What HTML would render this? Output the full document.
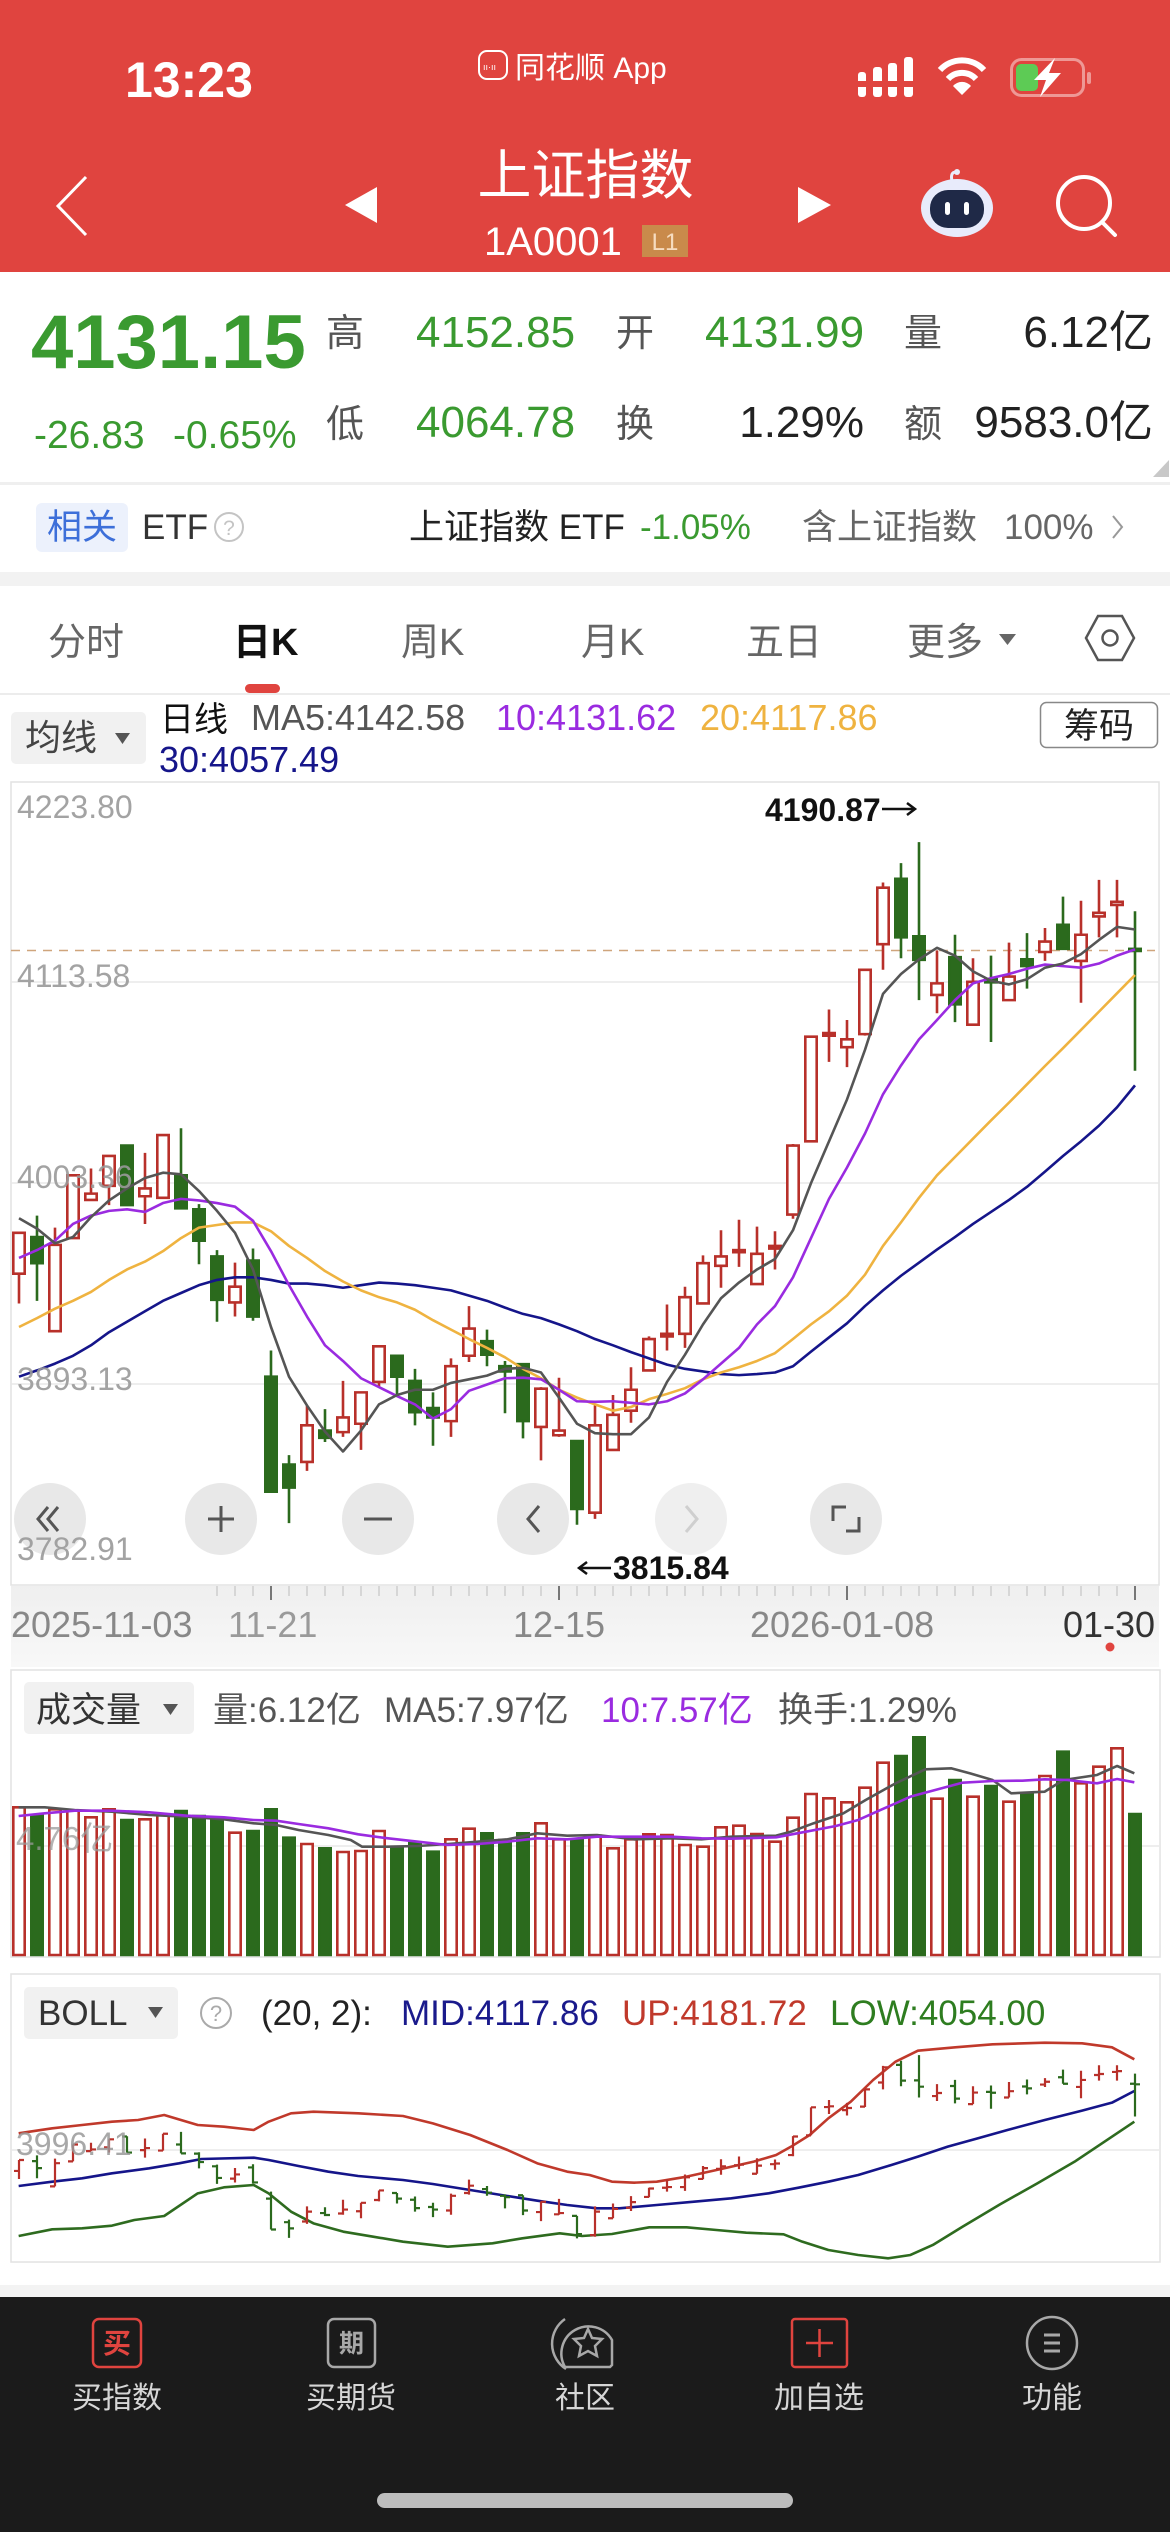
<!DOCTYPE html>
<html><head><meta charset="utf-8">
<style>
html,body{margin:0;padding:0;background:#fff;}
svg{display:block;font-family:"Liberation Sans","Noto Sans CJK SC",sans-serif;}
.ns *{vector-effect:non-scaling-stroke;}
</style></head>
<body>
<svg width="1170" height="2532" viewBox="0 0 1170 2532" xmlns="http://www.w3.org/2000/svg">
<defs>
<linearGradient id="dg" x1="0" y1="0" x2="0" y2="1"><stop offset="0" stop-color="#efefef"/><stop offset="1" stop-color="#f8f8f8"/></linearGradient>
</defs>
<rect x="0" y="0" width="1170" height="2532" fill="#fff"/>
<!-- HEADER -->
<rect x="0" y="0" width="1170" height="272" fill="#e0443f"/>
<text x="125" y="97" font-size="50" font-weight="bold" fill="#fff">13:23</text>
<rect x="479" y="51" width="28" height="28" rx="8" fill="#e0443f" stroke="#fff" stroke-width="2"/>
<text x="483" y="70" font-size="9" fill="#fff">ıı·ıı</text>
<text x="515" y="78" font-size="30" fill="#fff">同花顺 App</text>
<!-- signal -->
<g fill="#fff">
<rect x="858" y="72" width="8" height="25" rx="3"/>
<rect x="873" y="67" width="9" height="30" rx="3"/>
<rect x="888" y="63" width="9" height="34" rx="3"/>
<rect x="904" y="57" width="9" height="40" rx="3"/>
</g>
<rect x="855" y="81" width="62" height="6" fill="#e0443f"/>
<!-- wifi -->
<g fill="none" stroke="#fff" stroke-width="6">
<path d="M940,70 A30,30 0 0 1 984,70"/>
<path d="M948,79 A19,19 0 0 1 976,79"/>
</g>
<path d="M962,95 L953,86 A12,12 0 0 1 971,86 Z" fill="#fff"/>
<!-- battery -->
<rect x="1011.5" y="59.5" width="72" height="36" rx="10" fill="none" stroke="rgba(255,255,255,0.45)" stroke-width="3"/>
<rect x="1087" y="72" width="4" height="12" rx="2" fill="rgba(255,255,255,0.45)"/>
<rect x="1016" y="64" width="22" height="27" rx="5" fill="#5dcb55"/>
<polygon points="1055,58 1034,80 1046,80 1040,97 1061,73 1049,73" fill="#fff"/>
<!-- nav row -->
<polyline points="86,177 58,206 86,235" fill="none" stroke="#fff" stroke-width="3"/>
<polygon points="377,187 345,205 377,223" fill="#fff"/>
<text x="585.5" y="194" font-size="54" fill="#fff" text-anchor="middle">上证指数</text>
<text x="484" y="255" font-size="40" fill="#fff">1A0001</text>
<rect x="642" y="225" width="46" height="32" fill="#c98a4b"/>
<text x="665" y="250" font-size="24" fill="#f6dcc0" text-anchor="middle">L1</text>
<polygon points="798,187 831,205 798,223" fill="#fff"/>
<!-- robot -->
<path d="M952,181 Q950,172 956,172" fill="none" stroke="#e9ecfb" stroke-width="3"/>
<circle cx="957" cy="172" r="3" fill="#e9ecfb"/>
<ellipse cx="957" cy="208" rx="36" ry="29" fill="#e8ebfb"/>
<rect x="930" y="190" width="54" height="38" rx="18" fill="#1f2947"/>
<rect x="945" y="202" width="5" height="13" rx="2.5" fill="#fff"/>
<rect x="964" y="202" width="5" height="13" rx="2.5" fill="#fff"/>
<!-- search -->
<circle cx="1084" cy="203" r="26" fill="none" stroke="#fff" stroke-width="4"/>
<line x1="1102" y1="222" x2="1115" y2="235" stroke="#fff" stroke-width="4" stroke-linecap="round"/>

<!-- PRICE PANEL -->
<text x="31" y="368" font-size="76" font-weight="bold" fill="#3a9a30">4131.15</text>
<text x="34" y="448" font-size="39" fill="#3a9a30">-26.83</text>
<text x="173" y="448" font-size="39" fill="#3a9a30">-0.65%</text>
<g font-size="38" fill="#555">
<text x="326" y="346">高</text><text x="326" y="437">低</text>
<text x="616" y="346">开</text><text x="616" y="437">换</text>
<text x="904" y="346">量</text><text x="904" y="437">额</text>
</g>
<g font-size="44">
<text x="416" y="347" fill="#3a9a30">4152.85</text>
<text x="416" y="437" fill="#3a9a30">4064.78</text>
<text x="705" y="347" fill="#3a9a30">4131.99</text>
<text x="864" y="437" fill="#222" text-anchor="end">1.29%</text>
<text x="1153" y="347" fill="#222" text-anchor="end">6.12亿</text>
<text x="1153" y="437" fill="#222" text-anchor="end">9583.0亿</text>
</g>
<polygon points="1169,460 1169,477 1153,477" fill="#c8c8c8"/>
<rect x="0" y="482" width="1170" height="3" fill="#efefef"/>
<!-- ETF row -->
<rect x="36" y="503" width="92" height="49" rx="6" fill="#ecf1fc"/>
<text x="82" y="539" font-size="35" fill="#3d6fd9" text-anchor="middle">相关</text>
<text x="142" y="539" font-size="35" fill="#333">ETF</text>
<circle cx="229" cy="527" r="14" fill="none" stroke="#c4c4c4" stroke-width="2"/>
<text x="229" y="535" font-size="21" fill="#c4c4c4" text-anchor="middle">?</text>
<text x="409" y="539" font-size="35" fill="#222">上证指数 ETF</text>
<text x="640" y="539" font-size="35" fill="#3a9a30">-1.05%</text>
<text x="802" y="539" font-size="35" fill="#666">含上证指数</text>
<text x="1004" y="539" font-size="35" fill="#666">100%</text>
<polyline points="1113,516 1122,527 1113,538" fill="none" stroke="#999" stroke-width="2"/>
<rect x="0" y="572" width="1170" height="14" fill="#f2f2f2"/>

<!-- TABS -->
<g font-size="38" fill="#666">
<text x="48" y="655">分时</text>
<text x="233" y="655" fill="#111" font-weight="bold">日K</text>
<text x="401" y="655">周K</text>
<text x="581" y="655">月K</text>
<text x="746" y="655">五日</text>
<text x="907" y="655">更多</text>
</g>
<polygon points="999,634 1016,634 1007.5,645" fill="#666"/>
<polygon points="1086,638 1098,616 1122,616 1134,638 1122,660 1098,660" fill="none" stroke="#555" stroke-width="2.5"/>
<circle cx="1110" cy="638" r="7.5" fill="none" stroke="#555" stroke-width="2.5"/>
<rect x="245" y="684" width="35" height="9" rx="4.5" fill="#e0443f"/>
<rect x="0" y="693" width="1170" height="2" fill="#ececec"/>

<!-- MA LEGEND -->
<rect x="11" y="712" width="135" height="52" rx="5" fill="#f1f1f1"/>
<text x="25" y="750" font-size="36" fill="#444">均线</text>
<polygon points="115,733 130,733 122.5,744" fill="#555"/>
<text x="160" y="731" font-size="34" fill="#111">日线</text>
<text x="251" y="730" font-size="36" fill="#555">MA5:4142.58</text>
<text x="496" y="730" font-size="36" fill="#9a2be0">10:4131.62</text>
<text x="700" y="730" font-size="36" fill="#efb340">20:4117.86</text>
<text x="159" y="772" font-size="36" fill="#15158a">30:4057.49</text>
<rect x="1040.5" y="702.5" width="117" height="45" rx="6" fill="#fff" stroke="#888" stroke-width="1.5"/>
<text x="1099" y="738" font-size="35" fill="#222" text-anchor="middle">筹码</text>

<!-- MAIN CHART FRAME -->
<rect x="11" y="782" width="1148" height="803" fill="#fff" stroke="#e2e2e2" stroke-width="1.5"/>
<g stroke="#e8e8e8" stroke-width="1.5">
<line x1="11" y1="982" x2="1159" y2="982"/>
<line x1="11" y1="1183" x2="1159" y2="1183"/>
<line x1="11" y1="1384" x2="1159" y2="1384"/>
</g>
<line x1="11" y1="950.5" x2="1155" y2="950.5" stroke="#cfa57c" stroke-width="1.5" stroke-dasharray="9,7"/>

<!-- candles (y in zoom units) -->
<g class="ns" transform="translate(0,770) scale(1,0.5230)">
<path fill="none" stroke="#b8302a" stroke-width="2.6" d="M19 885V1020M55 875V1073M73 775V895M91 762V822M109 738V832M145 732V868M163 698V818M235 942V1045M307 1215V1340M343 1168V1275M361 1190V1300M379 1102V1180M451 1125V1275M469 1025V1132M541 1180V1320M559 1162V1275M595 1215V1432M613 1195V1300M631 1142V1248M649 1083V1150M667 1022V1110M685 988V1105M703 928V1022M721 880V990M739 860V950M757 873V983M775 882V955M793 715V858M811 510V710M829 458V558M847 478V568M865 380V508M883 215V382M937 345V465M973 360V487M1009 330V440M1045 302V365M1081 250V445M1099 210V320M1117 210V320"/>
<path fill="none" stroke="#2b6a1d" stroke-width="2.6" d="M37 852V1015M127 716V832M181 685V838M199 830V945M217 918V1055M253 915V1053M271 1110V1380M289 1310V1440M325 1222V1285M397 1120V1195M415 1145V1253M433 1190V1292M487 1070V1140M505 1130V1230M523 1136V1278M577 1283V1443M901 178V360M919 138V440M955 315V482M991 355V520M1027 312V418M1063 242V342M1135 270V575"/>
<g fill="#fff" stroke="#b8302a" stroke-width="2.6">
<rect x="13.3" y="885" width="11.4" height="78"/>
<rect x="49.3" y="908" width="11.4" height="165"/>
<rect x="67.3" y="775" width="11.4" height="120"/>
<rect x="85.3" y="810" width="11.4" height="12"/>
<rect x="103.3" y="738" width="11.4" height="57"/>
<rect x="139.3" y="800" width="11.4" height="15"/>
<rect x="157.3" y="698" width="11.4" height="120"/>
<rect x="229.3" y="988" width="11.4" height="30"/>
<rect x="301.3" y="1253" width="11.4" height="70"/>
<rect x="337.3" y="1238" width="11.4" height="28"/>
<rect x="355.3" y="1190" width="11.4" height="60"/>
<rect x="373.3" y="1102" width="11.4" height="68"/>
<rect x="445.3" y="1140" width="11.4" height="105"/>
<rect x="463.3" y="1068" width="11.4" height="52"/>
<rect x="535.3" y="1183" width="11.4" height="73"/>
<rect x="553.3" y="1263" width="11.4" height="9"/>
<rect x="589.3" y="1253" width="11.4" height="167"/>
<rect x="607.3" y="1233" width="11.4" height="67"/>
<rect x="625.3" y="1185" width="11.4" height="40"/>
<rect x="643.3" y="1088" width="11.4" height="60"/>
<rect x="661.3" y="1078" width="11.4" height="5"/>
<rect x="679.3" y="1008" width="11.4" height="70"/>
<rect x="697.3" y="943" width="11.4" height="77"/>
<rect x="715.3" y="930" width="11.4" height="18"/>
<rect x="733.3" y="918" width="11.4" height="4"/>
<rect x="751.3" y="925" width="11.4" height="58"/>
<rect x="769.3" y="910" width="11.4" height="5"/>
<rect x="787.3" y="718" width="11.4" height="132"/>
<rect x="805.3" y="510" width="11.4" height="200"/>
<rect x="823.3" y="503" width="11.4" height="5"/>
<rect x="841.3" y="515" width="11.4" height="15"/>
<rect x="859.3" y="382" width="11.4" height="123"/>
<rect x="877.3" y="225" width="11.4" height="108"/>
<rect x="931.3" y="408" width="11.4" height="22"/>
<rect x="967.3" y="405" width="11.4" height="82"/>
<rect x="1003.3" y="395" width="11.4" height="45"/>
<rect x="1039.3" y="328" width="11.4" height="20"/>
<rect x="1075.3" y="315" width="11.4" height="50"/>
<rect x="1093.3" y="273" width="11.4" height="7"/>
<rect x="1111.3" y="252" width="11.4" height="6"/>
</g>
<g fill="#2b6a1d" stroke="#2b6a1d" stroke-width="2.6">
<rect x="31.3" y="893" width="11.4" height="50"/>
<rect x="121.3" y="718" width="11.4" height="114"/>
<rect x="175.3" y="775" width="11.4" height="63"/>
<rect x="193.3" y="840" width="11.4" height="60"/>
<rect x="211.3" y="930" width="11.4" height="83"/>
<rect x="247.3" y="938" width="11.4" height="107"/>
<rect x="265.3" y="1160" width="11.4" height="220"/>
<rect x="283.3" y="1328" width="11.4" height="44"/>
<rect x="319.3" y="1263" width="11.4" height="14"/>
<rect x="391.3" y="1120" width="11.4" height="40"/>
<rect x="409.3" y="1168" width="11.4" height="60"/>
<rect x="427.3" y="1220" width="11.4" height="18"/>
<rect x="481.3" y="1092" width="11.4" height="26"/>
<rect x="499.3" y="1140" width="11.4" height="10"/>
<rect x="517.3" y="1136" width="11.4" height="109"/>
<rect x="571.3" y="1283" width="11.4" height="130"/>
<rect x="895.3" y="208" width="11.4" height="112"/>
<rect x="913.3" y="318" width="11.4" height="45"/>
<rect x="949.3" y="358" width="11.4" height="90"/>
<rect x="985.3" y="400" width="11.4" height="6"/>
<rect x="1021.3" y="362" width="11.4" height="13"/>
<rect x="1057.3" y="296" width="11.4" height="46"/>
<rect x="1129.3" y="342" width="11.4" height="4"/>
</g>
<g fill="none" stroke-width="2.6" stroke-linejoin="round">
<path stroke="#15158a" d="M19,1160 L37,1148 L55,1135 L73,1120 L91,1100 L109,1075 L127,1055 L145,1035 L163,1015 L181,1000 L199,985 L217,975 L235,970 L253,970 L271,975 L289,982 L307,982 L325,985 L343,990 L361,985 L379,980 L397,982 L415,985 L433,990 L451,995 L469,1005 L487,1015 L505,1028 L523,1040 L541,1048 L559,1060 L577,1073 L595,1088 L613,1100 L631,1113 L649,1125 L667,1137 L685,1145 L703,1150 L721,1155 L739,1157 L757,1155 L775,1152 L793,1140 L811,1112 L829,1085 L847,1058 L865,1025 L883,995 L901,967 L919,942 L937,917 L955,893 L973,868 L991,845 L1009,822 L1027,797 L1045,768 L1063,738 L1081,710 L1099,680 L1117,645 L1135,603"/>
<path stroke="#efb340" d="M19,1065 L37,1048 L55,1030 L73,1015 L91,998 L109,975 L127,955 L145,940 L163,920 L181,895 L199,875 L217,870 L235,865 L253,865 L271,882 L289,910 L307,933 L325,958 L343,978 L361,995 L379,1008 L397,1018 L415,1032 L433,1052 L451,1070 L469,1088 L487,1105 L505,1123 L523,1145 L541,1163 L559,1185 L577,1200 L595,1213 L613,1225 L631,1218 L649,1203 L667,1193 L685,1182 L703,1165 L721,1152 L739,1142 L757,1130 L775,1115 L793,1088 L811,1060 L829,1035 L847,1005 L865,965 L883,910 L901,865 L919,818 L937,775 L955,740 L973,705 L991,670 L1009,636 L1027,601 L1045,566 L1063,532 L1081,497 L1099,462 L1117,427 L1135,392"/>
<path stroke="#9a2be0" d="M19,933 L37,918 L55,900 L73,868 L91,852 L109,843 L127,840 L145,845 L163,828 L181,820 L199,823 L217,828 L235,835 L253,862 L271,920 L289,985 L307,1045 L325,1100 L343,1130 L361,1163 L379,1180 L397,1197 L415,1213 L433,1240 L451,1222 L469,1187 L487,1175 L505,1163 L523,1162 L541,1165 L559,1185 L577,1207 L595,1208 L613,1207 L631,1210 L649,1213 L667,1207 L685,1192 L703,1165 L721,1135 L739,1105 L757,1060 L775,1025 L793,970 L811,895 L829,820 L847,760 L865,695 L883,620 L901,565 L919,515 L937,478 L955,440 L973,408 L991,398 L1009,390 L1027,380 L1045,372 L1063,375 L1081,378 L1099,370 L1117,355 L1135,343"/>
<path stroke="#555" d="M19,857 L37,877 L55,905 L73,893 L91,855 L109,823 L127,800 L145,780 L163,770 L181,773 L199,805 L217,843 L235,885 L253,955 L271,1065 L289,1160 L307,1215 L325,1265 L343,1303 L361,1263 L379,1213 L397,1195 L415,1185 L433,1185 L451,1172 L469,1165 L487,1158 L505,1145 L523,1143 L541,1152 L559,1200 L577,1250 L595,1268 L613,1270 L631,1270 L649,1238 L667,1170 L685,1118 L703,1060 L721,1010 L739,980 L757,955 L775,935 L793,880 L811,790 L829,710 L847,630 L865,535 L883,428 L901,390 L919,362 L937,340 L955,355 L973,385 L991,403 L1009,410 L1027,400 L1045,378 L1063,370 L1081,352 L1099,325 L1117,300 L1135,305"/>
</g>
</g>
<!-- y labels on top -->
<g font-size="32" fill="#999" fill-opacity="0.9">
<text x="17" y="818">4223.80</text>
<text x="17" y="987">4113.58</text>
<text x="17" y="1188">4003.36</text>
<text x="17" y="1390">3893.13</text>
</g>
<text x="765" y="821" font-size="32" font-weight="bold" fill="#111">4190.87</text>
<line x1="882" y1="809" x2="915" y2="809" stroke="#111" stroke-width="2.5"/>
<polyline points="907,803 915,809 907,815" fill="none" stroke="#111" stroke-width="2.5"/>
<line x1="579" y1="1568" x2="611" y2="1568" stroke="#111" stroke-width="2.5"/>
<polyline points="587,1562 579,1568 587,1574" fill="none" stroke="#111" stroke-width="2.5"/>
<text x="613" y="1579" font-size="32" font-weight="bold" fill="#111">3815.84</text>

<!-- controls -->
<g fill="#e4e4e4" fill-opacity="0.85">
<circle cx="50" cy="1519" r="36"/>
<circle cx="221" cy="1519" r="36"/>
<circle cx="378" cy="1519" r="36"/>
<circle cx="533" cy="1519" r="36"/>
<circle cx="691" cy="1519" r="36" fill="#ececec"/>
<circle cx="846" cy="1519" r="36"/>
</g>
<text x="17" y="1560" font-size="32" fill="#999" fill-opacity="0.9">3782.91</text>
<g fill="none" stroke="#555" stroke-width="3">
<polyline points="48,1507 38,1519 48,1531"/>
<polyline points="58,1507 48,1519 58,1531"/>
<line x1="208" y1="1519" x2="234" y2="1519"/>
<line x1="221" y1="1506" x2="221" y2="1532"/>
<line x1="364" y1="1519" x2="392" y2="1519"/>
<polyline points="539,1506 528,1519 539,1532"/>
<polyline points="686,1506 697,1519 686,1532" stroke="#cfcfcf"/>
<polyline points="833,1521 833,1507 846,1507"/>
<polyline points="846,1531 859,1531 859,1517"/>
</g>

<!-- date strip -->
<rect x="11" y="1586" width="1148" height="81" fill="url(#dg)"/>
<g stroke="#cdcdcd" stroke-width="1.5">
<path d="M217 1586V1596M235 1586V1596M253 1586V1596M289 1586V1596M307 1586V1596M325 1586V1596M343 1586V1596M361 1586V1596M379 1586V1596M397 1586V1596M415 1586V1596M433 1586V1596M451 1586V1596M469 1586V1596M487 1586V1596M505 1586V1596M523 1586V1596M541 1586V1596M577 1586V1596M595 1586V1596M613 1586V1596M631 1586V1596M649 1586V1596M667 1586V1596M685 1586V1596M703 1586V1596M721 1586V1596M739 1586V1596M757 1586V1596M775 1586V1596M793 1586V1596M811 1586V1596M829 1586V1596M865 1586V1596M883 1586V1596M901 1586V1596M919 1586V1596M937 1586V1596M955 1586V1596M973 1586V1596M991 1586V1596M1009 1586V1596M1027 1586V1596M1045 1586V1596M1063 1586V1596M1081 1586V1596M1099 1586V1596M1117 1586V1596"/>
</g>
<g stroke="#777" stroke-width="2">
<path d="M271 1586V1600M559 1586V1600M847 1586V1600M1135 1586V1600"/>
</g>
<g font-size="36" fill="#888">
<text x="11" y="1637">2025-11-03</text>
<text x="228" y="1637" fill="#9a9a9a">11-21</text>
<text x="513" y="1637">12-15</text>
<text x="750" y="1637">2026-01-08</text>
<text x="1063" y="1637" fill="#333">01-30</text>
</g>
<circle cx="1110" cy="1647" r="4.5" fill="#e0443f"/>

<!-- VOLUME -->
<rect x="11" y="1670" width="1149" height="287" fill="#fff" stroke="#e2e2e2" stroke-width="1.5"/>
<rect x="24" y="1682" width="170" height="52" rx="5" fill="#f1f1f1"/>
<text x="36" y="1722" font-size="35" fill="#333">成交量</text>
<polygon points="163,1704 178,1704 170.5,1715" fill="#555"/>
<text x="213" y="1722" font-size="35" fill="#555">量:6.12亿</text>
<text x="384" y="1722" font-size="35" fill="#555">MA5:7.97亿</text>
<text x="601" y="1722" font-size="35" fill="#9a2be0">10:7.57亿</text>
<text x="778" y="1722" font-size="35" fill="#555">换手:1.29%</text>
<line x1="11" y1="1846" x2="1159" y2="1846" stroke="#e8e8e8" stroke-width="1.5"/>
<g class="ns" transform="translate(0,1570) scale(1,0.33333)">
<g fill="#fff" stroke="#b8302a" stroke-width="2.6">
<rect x="13.3" y="712" width="11.4" height="443"/>
<rect x="49.3" y="718" width="11.4" height="437"/>
<rect x="67.3" y="722" width="11.4" height="433"/>
<rect x="85.3" y="742" width="11.4" height="413"/>
<rect x="103.3" y="718" width="11.4" height="437"/>
<rect x="139.3" y="748" width="11.4" height="407"/>
<rect x="157.3" y="735" width="11.4" height="420"/>
<rect x="229.3" y="788" width="11.4" height="367"/>
<rect x="301.3" y="822" width="11.4" height="333"/>
<rect x="337.3" y="846" width="11.4" height="309"/>
<rect x="355.3" y="843" width="11.4" height="312"/>
<rect x="373.3" y="783" width="11.4" height="372"/>
<rect x="445.3" y="808" width="11.4" height="347"/>
<rect x="463.3" y="776" width="11.4" height="379"/>
<rect x="535.3" y="760" width="11.4" height="395"/>
<rect x="553.3" y="808" width="11.4" height="347"/>
<rect x="589.3" y="797" width="11.4" height="358"/>
<rect x="607.3" y="835" width="11.4" height="320"/>
<rect x="625.3" y="808" width="11.4" height="347"/>
<rect x="643.3" y="793" width="11.4" height="362"/>
<rect x="661.3" y="795" width="11.4" height="360"/>
<rect x="679.3" y="825" width="11.4" height="330"/>
<rect x="697.3" y="830" width="11.4" height="325"/>
<rect x="715.3" y="772" width="11.4" height="383"/>
<rect x="733.3" y="767" width="11.4" height="388"/>
<rect x="751.3" y="792" width="11.4" height="363"/>
<rect x="769.3" y="815" width="11.4" height="340"/>
<rect x="787.3" y="743" width="11.4" height="412"/>
<rect x="805.3" y="672" width="11.4" height="483"/>
<rect x="823.3" y="685" width="11.4" height="470"/>
<rect x="841.3" y="697" width="11.4" height="458"/>
<rect x="859.3" y="653" width="11.4" height="502"/>
<rect x="877.3" y="578" width="11.4" height="577"/>
<rect x="931.3" y="686" width="11.4" height="469"/>
<rect x="967.3" y="680" width="11.4" height="475"/>
<rect x="1003.3" y="695" width="11.4" height="460"/>
<rect x="1039.3" y="618" width="11.4" height="537"/>
<rect x="1075.3" y="640" width="11.4" height="515"/>
<rect x="1093.3" y="590" width="11.4" height="565"/>
<rect x="1111.3" y="535" width="11.4" height="620"/>
</g>
<g fill="#2b6a1d" stroke="#2b6a1d" stroke-width="2.6">
<rect x="31.3" y="735" width="11.4" height="420"/>
<rect x="121.3" y="750" width="11.4" height="405"/>
<rect x="175.3" y="723" width="11.4" height="432"/>
<rect x="193.3" y="738" width="11.4" height="417"/>
<rect x="211.3" y="745" width="11.4" height="410"/>
<rect x="247.3" y="783" width="11.4" height="372"/>
<rect x="265.3" y="718" width="11.4" height="437"/>
<rect x="283.3" y="803" width="11.4" height="352"/>
<rect x="319.3" y="835" width="11.4" height="320"/>
<rect x="391.3" y="835" width="11.4" height="320"/>
<rect x="409.3" y="820" width="11.4" height="335"/>
<rect x="427.3" y="845" width="11.4" height="310"/>
<rect x="481.3" y="790" width="11.4" height="365"/>
<rect x="499.3" y="810" width="11.4" height="345"/>
<rect x="517.3" y="790" width="11.4" height="365"/>
<rect x="571.3" y="808" width="11.4" height="347"/>
<rect x="895.3" y="558" width="11.4" height="597"/>
<rect x="913.3" y="502" width="11.4" height="653"/>
<rect x="949.3" y="630" width="11.4" height="525"/>
<rect x="985.3" y="648" width="11.4" height="507"/>
<rect x="1021.3" y="673" width="11.4" height="482"/>
<rect x="1057.3" y="545" width="11.4" height="610"/>
<rect x="1129.3" y="732" width="11.4" height="423"/>
</g>
</g>
<text x="16" y="1850" font-size="33" fill="#999" fill-opacity="0.75">4.76亿</text>
<g class="ns" transform="translate(0,1570) scale(0.74627,0.33333)" fill="none" stroke-width="2.6" stroke-linejoin="round">
<path stroke="#555" d="M25,712 L60,712 L100,720 L150,725 L200,735 L250,740 L300,748 L340,760 L370,765 L400,780 L440,795 L470,810 L485,830 L520,830 L560,828 L600,822 L640,815 L680,808 L720,790 L760,797 L800,795 L850,808 L900,805 L940,808 L980,800 L1040,797 L1060,785 L1090,760 L1130,730 L1160,690 L1200,640 L1240,598 L1275,595 L1300,610 L1330,630 L1355,670 L1400,665 L1425,630 L1470,615 L1497,588 L1520,610"/>
<path stroke="#9a2be0" d="M25,738 L60,730 L100,722 L150,722 L200,727 L250,737 L300,742 L340,750 L370,752 L400,762 L440,775 L480,793 L520,805 L560,815 L600,825 L640,822 L680,815 L720,805 L760,808 L800,800 L850,800 L900,800 L940,805 L980,806 L1040,802 L1080,785 L1120,768 L1150,750 L1180,720 L1220,680 L1250,662 L1290,638 L1330,633 L1370,632 L1400,628 L1430,630 L1470,640 L1497,627 L1520,637"/>
</g>

<!-- BOLL -->
<rect x="11" y="1974" width="1149" height="288" fill="#fff" stroke="#e2e2e2" stroke-width="1.5"/>
<rect x="24" y="1987" width="154" height="52" rx="5" fill="#f1f1f1"/>
<text x="38" y="2025" font-size="35" fill="#333">BOLL</text>
<polygon points="148,2007 163,2007 155.5,2018" fill="#555"/>
<circle cx="216" cy="2013" r="15" fill="none" stroke="#aaa" stroke-width="2"/>
<text x="216" y="2021" font-size="22" fill="#aaa" text-anchor="middle">?</text>
<text x="261" y="2025" font-size="35" fill="#222">(20, 2):</text>
<text x="401" y="2025" font-size="35" fill="#1a1a8c">MID:4117.86</text>
<text x="622" y="2025" font-size="35" fill="#c0392b">UP:4181.72</text>
<text x="830" y="2025" font-size="35" fill="#2e7d20">LOW:4054.00</text>
<line x1="11" y1="2150" x2="1159" y2="2150" stroke="#e8e8e8" stroke-width="1.5"/>
<g class="ns" transform="translate(0,1960) scale(0.74627,0.33333)" fill="none" stroke-width="2.6" stroke-linejoin="round">
<path stroke="#c0392b" d="M25,520 L70,505 L110,495 L150,485 L185,480 L220,465 L265,495 L300,500 L340,510 L360,485 L390,460 L420,455 L480,460 L540,468 L580,490 L630,525 L680,570 L720,610 L760,635 L790,645 L820,665 L850,668 L880,665 L920,650 L970,625 L1010,605 L1040,585 L1060,560 L1085,525 L1110,475 L1140,425 L1170,360 L1200,305 L1230,272 L1280,262 L1330,253 L1400,248 L1450,250 L1490,262 L1520,298"/>
<path stroke="#15158a" d="M25,678 L70,665 L110,655 L150,640 L200,625 L240,610 L270,597 L340,593 L360,600 L400,618 L440,635 L480,648 L540,660 L580,672 L630,690 L680,708 L720,722 L760,735 L800,745 L830,745 L880,735 L930,725 L980,715 L1030,700 L1070,683 L1110,665 L1150,645 L1190,618 L1230,590 L1270,560 L1310,535 L1350,510 L1400,480 L1450,452 L1490,428 L1520,393"/>
<path stroke="#2e6b1f" d="M25,828 L70,808 L110,805 L150,797 L180,780 L220,768 L265,700 L300,682 L340,675 L360,700 L390,755 L420,790 L460,815 L500,830 L540,845 L600,860 L660,850 L700,835 L750,820 L780,828 L820,822 L870,802 L920,802 L960,810 L1000,818 L1050,823 L1075,845 L1110,870 L1150,885 L1190,895 L1220,885 L1250,855 L1290,800 L1340,733 L1390,670 L1440,605 L1480,545 L1520,485"/>
</g>
<g class="ns" transform="translate(0,2035.7) scale(1,0.14043)" fill="none" stroke-width="2.2">
<path stroke="#b8302a" d="M19 885V1020M14 963H19M19 885H24M55 875V1073M50 1073H55M55 908H60M73 775V895M68 895H73M73 775H78M91 762V822M86 822H91M91 810H96M109 738V832M104 795H109M109 738H114M145 732V868M140 815H145M145 800H150M163 698V818M158 818H163M163 698H168M235 942V1045M230 1018H235M235 988H240M307 1215V1340M302 1323H307M307 1253H312M343 1168V1275M338 1266H343M343 1238H348M361 1190V1300M356 1250H361M361 1190H366M379 1102V1180M374 1170H379M379 1102H384M451 1125V1275M446 1245H451M451 1140H456M469 1025V1132M464 1120H469M469 1068H474M541 1180V1320M536 1256H541M541 1183H546M559 1162V1275M554 1272H559M559 1263H564M595 1215V1432M590 1420H595M595 1253H600M613 1195V1300M608 1300H613M613 1233H618M631 1142V1248M626 1225H631M631 1185H636M649 1083V1150M644 1148H649M649 1088H654M667 1022V1110M662 1083H667M667 1078H672M685 988V1105M680 1078H685M685 1008H690M703 928V1022M698 1020H703M703 943H708M721 880V990M716 948H721M721 930H726M739 860V950M734 922H739M739 918H744M757 873V983M752 983H757M757 925H762M775 882V955M770 915H775M775 910H780M793 715V858M788 850H793M793 718H798M811 510V710M806 710H811M811 510H816M829 458V558M824 508H829M829 503H834M847 478V568M842 530H847M847 515H852M865 380V508M860 505H865M865 382H870M883 215V382M878 333H883M883 225H888M937 345V465M932 430H937M937 408H942M973 360V487M968 487H973M973 405H978M1009 330V440M1004 440H1009M1009 395H1014M1045 302V365M1040 348H1045M1045 328H1050M1081 250V445M1076 365H1081M1081 315H1086M1099 210V320M1094 280H1099M1099 273H1104M1117 210V320M1112 258H1117M1117 252H1122"/>
<path stroke="#2b6a1d" d="M37 852V1015M32 893H37M37 943H42M127 716V832M122 718H127M127 832H132M181 685V838M176 775H181M181 838H186M199 830V945M194 840H199M199 900H204M217 918V1055M212 930H217M217 1013H222M253 915V1053M248 938H253M253 1045H258M271 1110V1380M266 1160H271M271 1380H276M289 1310V1440M284 1328H289M289 1372H294M325 1222V1285M320 1263H325M325 1277H330M397 1120V1195M392 1120H397M397 1160H402M415 1145V1253M410 1168H415M415 1228H420M433 1190V1292M428 1220H433M433 1238H438M487 1070V1140M482 1092H487M487 1118H492M505 1130V1230M500 1140H505M505 1150H510M523 1136V1278M518 1136H523M523 1245H528M577 1283V1443M572 1283H577M577 1413H582M901 178V360M896 208H901M901 320H906M919 138V440M914 318H919M919 363H924M955 315V482M950 358H955M955 448H960M991 355V520M986 400H991M991 406H996M1027 312V418M1022 362H1027M1027 375H1032M1063 242V342M1058 296H1063M1063 342H1068M1135 270V575M1130 342H1135M1135 346H1140"/>
</g>
<text x="16" y="2155" font-size="32" fill="#999" fill-opacity="0.85">3996.41</text>

<!-- BOTTOM NAV -->
<rect x="0" y="2285" width="1170" height="13" fill="#f3f3f3"/>
<rect x="0" y="2297" width="1170" height="235" fill="#1b1b1b"/>
<rect x="93" y="2319" width="48" height="48" rx="6" fill="none" stroke="#e0443f" stroke-width="2.5"/>
<text x="117" y="2353" font-size="28" font-weight="bold" fill="#e0443f" text-anchor="middle">买</text>
<rect x="328" y="2319" width="47" height="48" rx="6" fill="none" stroke="#a8a8a8" stroke-width="2.5"/>
<text x="351.5" y="2352" font-size="25" font-weight="bold" fill="#a8a8a8" text-anchor="middle">期</text>
<path d="M565,2367 L610,2367 L612,2365 L612,2340 A26,26 0 1 0 565,2367 Z" fill="none" stroke="#a8a8a8" stroke-width="2.5"/>
<path d="M565,2319 A30,30 0 0 0 566,2369" fill="none" stroke="#a8a8a8" stroke-width="2.5"/>
<polygon points="588,2329 592,2338 602,2339 595,2346 597,2356 588,2351 579,2356 581,2346 574,2339 584,2338" fill="none" stroke="#a8a8a8" stroke-width="2.5"/>
<rect x="792" y="2319" width="55" height="48" rx="3" fill="none" stroke="#e0443f" stroke-width="2.5"/>
<line x1="806" y1="2343" x2="833" y2="2343" stroke="#e0443f" stroke-width="2.5"/>
<line x1="819.5" y1="2329" x2="819.5" y2="2357" stroke="#e0443f" stroke-width="2.5"/>
<ellipse cx="1052" cy="2343" rx="25" ry="26" fill="none" stroke="#a8a8a8" stroke-width="2.5"/>
<g stroke="#a8a8a8" stroke-width="3"><line x1="1044" y1="2335" x2="1060" y2="2335"/><line x1="1044" y1="2343" x2="1060" y2="2343"/><line x1="1044" y1="2351" x2="1060" y2="2351"/></g>
<g font-size="30" fill="#d6d6d6" text-anchor="middle">
<text x="117" y="2408">买指数</text>
<text x="351" y="2408">买期货</text>
<text x="585" y="2408">社区</text>
<text x="819" y="2408">加自选</text>
<text x="1052" y="2408">功能</text>
</g>
<rect x="377" y="2493" width="416" height="15" rx="7.5" fill="#bdbdbd"/>
</svg>
</body></html>
